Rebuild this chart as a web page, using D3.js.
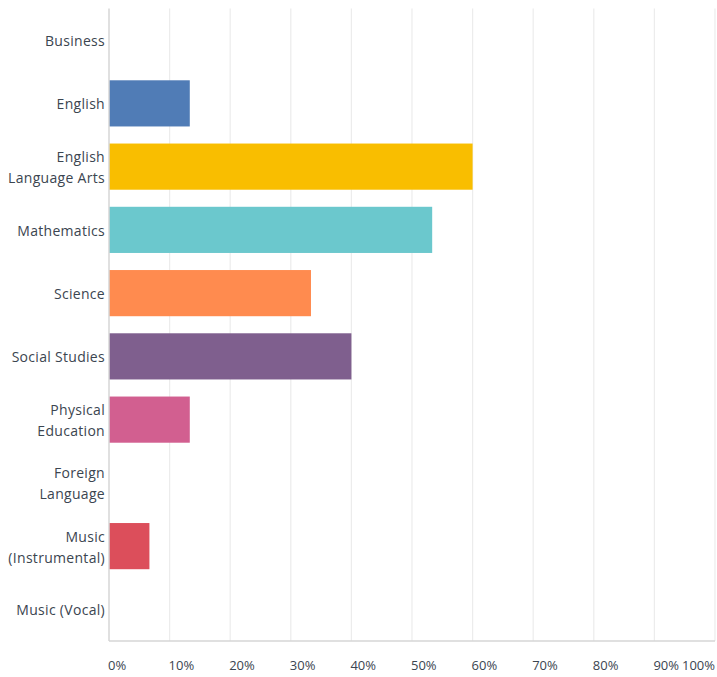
<!DOCTYPE html>
<html lang="en">
<head>
  <meta charset="UTF-8">
  <title>Subjects</title>
  <script src="https://d3js.org/d3.v7.min.js"></script>
  <style>
    body, html {
      margin: 0;
      background-color: #fff;
      font-family: 'Open Sans', sans-serif;
    }
    .cat-label { font-size: 14px; fill: #3b4550; letter-spacing: 0.3px; }
    .tick-label { font-size: 13px; fill: #3b4550; }
  </style>
</head>
<body>
<svg id="chart" width="717" height="677"></svg>
<script>
  const categories = [
    ["Business"],
    ["English"],
    ["English", "Language Arts"],
    ["Mathematics"],
    ["Science"],
    ["Social Studies"],
    ["Physical", "Education"],
    ["Foreign", "Language"],
    ["Music", "(Instrumental)"],
    ["Music (Vocal)"]
  ];
  const values = [0, 13.33, 60, 53.33, 33.33, 40, 13.33, 0, 6.67, 0];
  const colors = ["#507cb6", "#507cb6", "#f9be00", "#6bc8cd", "#ff8b4f",
                  "#7f5f8e", "#d25f90", "#f0a0a0", "#dc4e5b", "#9fc5a0"];
  const tickValues = [0, 10, 20, 30, 40, 50, 60, 70, 80, 90, 100];

  const svg = d3.select("#chart");
  const margin = { top: 8.5, right: 2, bottom: 36, left: 109 };
  const width = 717 - margin.left - margin.right;
  const height = 677 - margin.top - margin.bottom;

  const x = d3.scaleLinear().domain([0, 100]).range([0, width]);
  const y = d3.scaleBand().domain(d3.range(categories.length))
          .range([0, height]).paddingInner(0.27).paddingOuter(0.135);

  const g = svg.append("g")
          .attr("transform", `translate(${margin.left},${margin.top})`);

  // grid
  g.selectAll(".grid")
          .data(tickValues.slice(1))
          .enter().append("line")
          .attr("x1", d => x(d)).attr("x2", d => x(d))
          .attr("y1", 0).attr("y2", height)
          .attr("stroke", "#ececec").attr("stroke-width", 1.2);

  // bars
  g.selectAll(".bar")
          .data(values)
          .enter().append("rect")
          .attr("x", 0)
          .attr("y", (d, i) => y(i))
          .attr("width", d => x(d))
          .attr("height", y.bandwidth())
          .attr("fill", (d, i) => colors[i]);

  // axes lines
  g.append("line")
          .attr("x1", 0).attr("x2", 0).attr("y1", 0).attr("y2", height)
          .attr("stroke", "#d6d6d6").attr("stroke-width", 1.5);
  g.append("line")
          .attr("x1", 0).attr("x2", width).attr("y1", height).attr("y2", height)
          .attr("stroke", "#d6d6d6").attr("stroke-width", 1.5);

  // category labels
  categories.forEach((lines, i) => {
    const cy = y(i) + y.bandwidth() / 2 + 1;
    const t = g.append("text")
            .attr("class", "cat-label")
            .attr("text-anchor", "end")
            .attr("x", -4);
    const lh = 21;
    lines.forEach((ln, k) => {
      t.append("tspan")
              .attr("x", -4)
              .attr("y", cy + (k - (lines.length - 1) / 2) * lh)
              .attr("dy", "0.35em")
              .text(ln);
    });
  });

  // tick labels
  g.selectAll(".tick-label")
          .data(tickValues)
          .enter().append("text")
          .attr("class", "tick-label")
          .attr("x", d => d === 100 ? x(d) : x(d) - 1)
          .attr("y", height + 24)
          .attr("dy", "0.35em")
          .attr("text-anchor", d => d === 100 ? "end" : "start")
          .text(d => d + "%");
</script>
</body>
</html>
